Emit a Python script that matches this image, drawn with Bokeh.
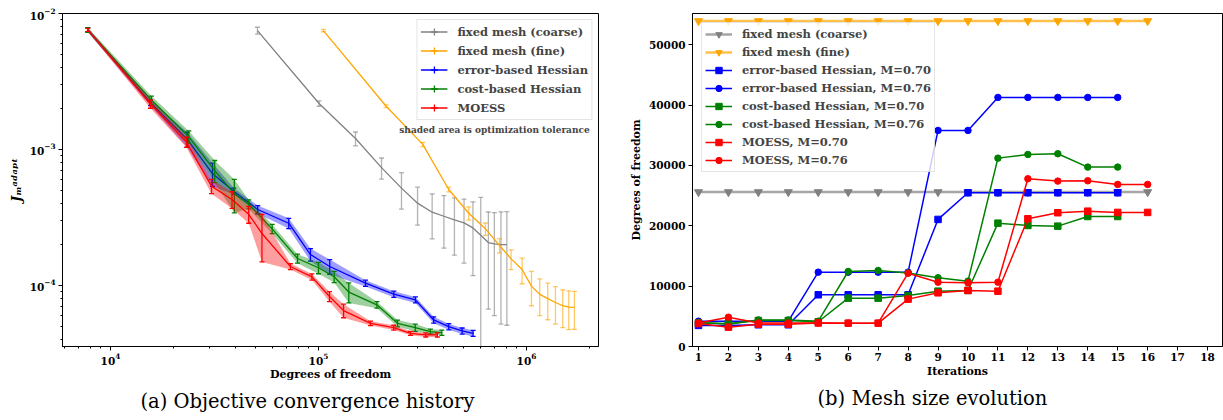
import math
from bokeh.plotting import figure
from bokeh.layouts import row
from bokeh.models import (ColumnDataSource, Legend, LegendItem, Label, FixedTicker, Range1d, Title)
from bokeh.embed import file_html
from bokeh.resources import INLINE

# ---------------- data: (a) objective convergence history ----------------
coarse_dof = [50900, 100700, 150700, 201000, 250700, 299500, 352000, 401000,
              450500, 501000, 553000, 603000, 656000, 701000, 754000, 805000]
coarse_J = [7.49e-3, 2.18e-3, 1.205e-3, 7.36e-4, 5.20e-4, 4.03e-4, 3.46e-4, 3.23e-4,
            3.04e-4, 2.89e-4, 2.65e-4, 2.34e-4, 2.07e-4, 2.02e-4, 2.00e-4, 2.00e-4]
coarse_err = [4.3e-4, 1.0e-4, 1.4e-4, 1.3e-4, 1.55e-4, 1.25e-4, 1.26e-4, 1.35e-4,
              1.37e-4, 1.43e-4, 1.47e-4, 2.1e-4, 1.40e-4, 1.42e-4, 1.48e-4, 1.49e-4]

fine_dof = [105600, 211600, 317200, 423000, 528000, 635000, 742000, 844000,
            953000, 1057000, 1158000, 1266000, 1378000, 1495000, 1597000, 1701000]
fine_J = [7.49e-3, 2.08e-3, 1.09e-3, 5.08e-4, 3.40e-4, 2.61e-4, 1.97e-4, 1.57e-4,
          1.31e-4, 9.9e-5, 8.6e-5, 8.0e-5, 7.5e-5, 7.1e-5, 6.93e-5, 6.9e-5]
fine_err = [1.5e-4, 5e-5, 4e-5, 2e-5, 3.8e-5, 2.7e-5, 2.4e-5, 2.6e-5,
            2.8e-5, 2.8e-5, 2.6e-5, 2.4e-5, 2.3e-5, 2.2e-5, 2.2e-5, 2.15e-5]

errh_dof = [7780, 15570, 23370, 30930, 39150, 51050, 71960, 91500,
            113300, 168300, 230300, 292500, 358000, 423000, 490700, 554000]
errh_J = [7.58e-3, 2.21e-3, 1.19e-3, 6.65e-4, 4.94e-4, 3.62e-4, 2.87e-4, 1.69e-4,
          1.38e-4, 1.04e-4, 8.63e-5, 7.84e-5, 5.58e-5, 4.98e-5, 4.63e-5, 4.45e-5]
errh_err = [2.6e-4, 1.1e-4, 1.5e-4, 1.3e-4, 2.6e-5, 2.5e-5, 2.5e-5, 1.8e-5,
            1.7e-5, 5.5e-6, 4.5e-6, 4e-6, 3e-6, 2.6e-6, 2.4e-6, 2.3e-6]

cost_dof = [7780, 15730, 23800, 31700, 39400, 46200, 59900, 79300,
            100000, 119000, 139900, 191000, 240000, 292000, 345000, 392000]
cost_J = [7.58e-3, 2.31e-3, 1.24e-3, 7.0e-4, 4.72e-4, 3.96e-4, 2.61e-4, 1.58e-4,
          1.35e-4, 1.16e-4, 8.95e-5, 7.21e-5, 5.27e-5, 4.90e-5, 4.58e-5, 4.50e-5]
cost_err = [3e-4, 1.6e-4, 1.3e-4, 1.3e-4, 1.3e-4, 3e-5, 2e-5, 1.2e-5,
            1.3e-5, 1.1e-5, 1.5e-5, 4e-6, 3e-6, 3e-6, 2e-6, 2e-6]

moess_dof = [7780, 15570, 23200, 30600, 38400, 46200, 53500, 73300,
             93000, 113000, 132000, 178000, 230000, 277000, 328000, 373000]
moess_J = [7.58e-3, 2.16e-3, 1.135e-3, 5.38e-4, 4.29e-4, 3.34e-4, 2.41e-4, 1.38e-4,
           1.156e-4, 8.3e-5, 6.54e-5, 5.27e-5, 4.90e-5, 4.45e-5, 4.33e-5, 4.33e-5]
moess_err = [2e-4, 1.5e-4, 1e-4, 6.5e-5, 6e-5, 4.7e-5, 9.2e-5, 7e-6,
             6e-6, 7e-6, 7.5e-6, 2e-6, 2e-6, 1.5e-6, 1.5e-6, 1.5e-6]

left_labels = ["fixed mesh (coarse)", "fixed mesh (fine)", "error-based Hessian",
               "cost-based Hessian", "MOESS"]

# ---------------- data: (b) mesh size evolution ----------------
iters16 = [1, 2, 3, 4, 5, 6, 7, 8, 9, 10, 11, 12, 13, 14, 15, 16]
iters15 = [1, 2, 3, 4, 5, 6, 7, 8, 9, 10, 11, 12, 13, 14, 15]
coarse_mesh = [25600] * 16
fine_mesh = [53950] * 16
errh_070 = [3500, 3500, 3600, 3600, 8570, 8570, 8570, 8570, 21060, 25480,
            25480, 25480, 25480, 25480, 25480]
errh_076 = [4200, 4200, 4200, 4200, 12320, 12320, 12320, 12320, 35810, 35810,
            41280, 41280, 41280, 41280, 41280]
cost_070 = [3900, 3800, 4300, 4300, 4100, 8010, 8010, 8450, 9170, 9290,
            20440, 20060, 19950, 21550, 21550]
cost_076 = [4000, 3700, 4400, 4400, 4200, 12430, 12600, 12200, 11390, 10830,
            31220, 31830, 31950, 29730, 29730]
moess_070 = [3800, 3200, 3700, 3700, 3900, 3870, 3870, 7850, 8900, 9290,
             9170, 21170, 22170, 22430, 22220, 22220]
moess_076 = [3900, 4860, 3900, 3900, 3900, 3870, 3870, 12150, 10660, 10560,
             10660, 27800, 27410, 27470, 26860, 26860]
right_labels = ["fixed mesh (coarse)", "fixed mesh (fine)",
                "error-based Hessian, M=0.70", "error-based Hessian, M=0.76",
                "cost-based Hessian, M=0.70", "cost-based Hessian, M=0.76",
                "MOESS, M=0.70", "MOESS, M=0.76"]

GRAY, ORANGE, BLUE, GREEN, RED = "#808080", "#ffa500", "#0000ff", "#008000", "#ff0000"
SERIF = "DejaVu Serif"


def style_axes(p):
    for ax in (p.xaxis, p.yaxis):
        ax.axis_line_color = "black"
        ax.major_tick_line_color = "black"
        ax.minor_tick_line_color = "black"
        ax.major_tick_in = 0
        ax.major_tick_out = 4
        ax.minor_tick_in = 0
        ax.minor_tick_out = 2
        ax.major_label_text_font = SERIF
        ax.major_label_text_font_style = "bold"
        ax.major_label_text_font_size = "10.5px"
        ax.major_label_text_color = "black"
        ax.axis_label_text_font = SERIF
        ax.axis_label_text_font_style = "bold"
        ax.axis_label_text_font_size = "11px"
        ax.axis_label_text_color = "black"
        ax.major_label_standoff = 3
        ax.axis_label_standoff = 3
    p.xaxis.major_label_standoff = 2
    p.xaxis.axis_label_standoff = 1
    p.xgrid.visible = False
    p.ygrid.visible = False
    p.outline_line_color = "black"
    p.outline_line_width = 1
    p.outline_line_alpha = 1
    p.background_fill_color = "white"
    p.border_fill_color = "white"


def add_caption(p, text, offset):
    p.add_layout(Title(text=text, align="left", offset=offset, text_font=SERIF,
                       text_font_style="normal", text_font_size="19.5px",
                       text_color="black", standoff=8), "below")


# ---------------- left panel ----------------
p1 = figure(width=626, height=420, x_axis_type="log", y_axis_type="log",
            x_range=Range1d(5880, 2.22e6), y_range=Range1d(3.56e-5, 1e-2),
            output_backend="svg", toolbar_location=None,
            min_border_left=62, min_border_right=28, min_border_top=13,
            min_border_bottom=74)
style_axes(p1)
p1.xaxis.ticker = FixedTicker(ticks=[1e4, 1e5, 1e6],
                              minor_ticks=[k * 10.0 ** e for e in (3, 4, 5, 6) for k in range(2, 10)])
p1.yaxis.ticker = FixedTicker(ticks=[1e-4, 1e-3, 1e-2],
                              minor_ticks=[k * 10.0 ** e for e in (-5, -4, -3) for k in range(2, 10)])
p1.xaxis.axis_label = "Degrees of freedom"
p1.xaxis.axis_label_standoff = 0
p1.yaxis.axis_label = "J\u2098\u1d43\u1d48\u1d43\u1d56\u1d57"
p1.yaxis.axis_label_text_font_style = "bold italic"
p1.yaxis.axis_label_text_font_size = "13px"

left_series = [
    (coarse_dof, coarse_J, coarse_err, GRAY, False),
    (fine_dof, fine_J, fine_err, ORANGE, False),
    (errh_dof, errh_J, errh_err, BLUE, True),
    (cost_dof, cost_J, cost_err, GREEN, True),
    (moess_dof, moess_J, moess_err, RED, True),
]
left_items = []
for (xs, ys, es, col, shaded), lab in zip(left_series, left_labels):
    lo = [y - e for y, e in zip(ys, es)]
    hi = [y + e for y, e in zip(ys, es)]
    src = ColumnDataSource(dict(x=xs, y=ys, lo=lo, hi=hi))
    if shaded:
        p1.varea(x="x", y1="lo", y2="hi", source=src, fill_color=col, fill_alpha=0.38)
    ealpha = 1.0 if shaded else 0.6
    p1.segment(x0="x", y0="lo", x1="x", y1="hi", source=src, line_color=col,
               line_width=1.3, line_alpha=ealpha)
    p1.scatter(x="x", y="lo", source=src, marker="dash", size=5, line_color=col,
               line_width=1.3, line_alpha=ealpha)
    p1.scatter(x="x", y="hi", source=src, marker="dash", size=5, line_color=col,
               line_width=1.3, line_alpha=ealpha)
    lr = p1.line(x="x", y="y", source=src, line_color=col, line_width=1.3)
    hr = p1.scatter(x=[float("nan")], y=[float("nan")], marker="cross", size=8,
                    line_color=col, line_width=1.3)
    left_items.append(LegendItem(label=lab, renderers=[lr, hr]))

leg1 = Legend(items=left_items, location="top_right")
p1.add_layout(leg1)

# ---------------- right panel ----------------
p2 = figure(width=597, height=420, x_range=Range1d(0.8, 18.5), y_range=Range1d(0, 55190),
            output_backend="svg", toolbar_location=None,
            min_border_left=64, min_border_right=1, min_border_top=13,
            min_border_bottom=74)
style_axes(p2)
p2.xaxis.ticker = FixedTicker(ticks=list(range(1, 19)))
p2.yaxis.ticker = FixedTicker(ticks=[0, 10000, 20000, 30000, 40000, 50000])
p2.xaxis.minor_tick_line_color = None
p2.yaxis.minor_tick_line_color = None
p2.xaxis.axis_label = "Iterations"
p2.yaxis.axis_label = "Degrees of freedom"

right_series = [
    (iters16, coarse_mesh, GRAY, "inverted_triangle", 2.5, 0.7, 8),
    (iters16, fine_mesh, ORANGE, "inverted_triangle", 2.5, 0.7, 8),
    (iters15, errh_070, BLUE, "square", 1.5, 1.0, 6.5),
    (iters15, errh_076, BLUE, "circle", 1.5, 1.0, 6.5),
    (iters15, cost_070, GREEN, "square", 1.5, 1.0, 6.5),
    (iters15, cost_076, GREEN, "circle", 1.5, 1.0, 6.5),
    (iters16, moess_070, RED, "square", 1.5, 1.0, 6.5),
    (iters16, moess_076, RED, "circle", 1.5, 1.0, 6.5),
]
right_items = []
for (xs, ys, col, mk, lw, la, ms), lab in zip(right_series, right_labels):
    src = ColumnDataSource(dict(x=xs, y=ys))
    lr = p2.line(x="x", y="y", source=src, line_color=col, line_width=lw, line_alpha=la)
    sr = p2.scatter(x="x", y="y", source=src, marker=mk, size=ms, fill_color=col,
                    line_color=col)
    right_items.append(LegendItem(label=lab, renderers=[lr, sr]))

leg2 = Legend(items=right_items, location="top_left")
p2.add_layout(leg2)

for leg in (leg1, leg2):
    leg.margin = 6
    leg.padding = 3
    leg.spacing = 2
    leg.glyph_width = 27
    leg.label_standoff = 10
    leg.label_text_font = SERIF
    leg.label_text_font_style = "bold"
    leg.label_text_font_size = "11.5px"
    leg.label_text_baseline = "middle"
    leg.border_line_color = "#cccccc"
    leg.border_line_width = 1
    leg.background_fill_color = "white"
    leg.background_fill_alpha = 0.8
leg1.glyph_height = 17
leg1.label_height = 17
leg2.glyph_height = 16
leg2.label_height = 16
leg2.margin = 9

# ---------------- texts ----------------
p1.add_layout(Label(x=432, y=217, x_units="screen", y_units="screen",
                    text="shaded area is optimization tolerance", text_align="center",
                    text_baseline="middle", text_font=SERIF, text_font_style="bold",
                    text_font_size="9px"))
add_caption(p1, "(a) Objective convergence history", 78)
add_caption(p2, "(b) Mesh size evolution", 125)

layout = row(p1, p2)
open("out.html", "w").write(file_html(layout, INLINE))
